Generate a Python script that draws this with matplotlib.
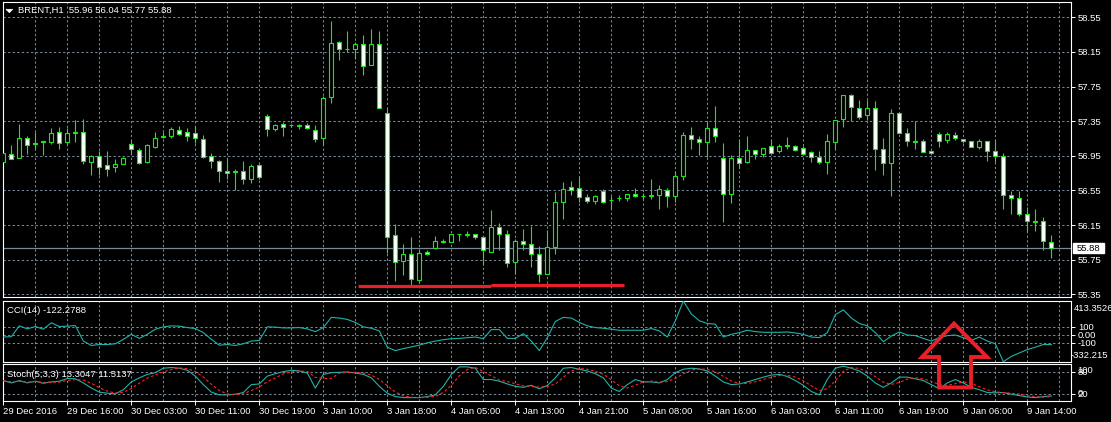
import matplotlib
matplotlib.use("Agg")
import matplotlib.pyplot as plt
from matplotlib.patches import Polygon, Rectangle
import matplotlib.transforms as mtransforms

plt.rcParams['font.family'] = ['Liberation Sans', 'DejaVu Sans']

# ---------------- data ----------------
title_text = "BRENT,H1  55.96 56.04 55.77 55.88"
cci_text = "CCI(14) -122.2788"
stoch_text = "Stoch(5,3,3) 13.3047 11.5137"

opens = [56.88, 56.97, 56.93, 57.15, 57.10, 57.12, 57.11, 57.22, 57.11, 57.22,
         57.23, 56.88, 56.95, 56.84, 56.82, 56.86, 57.09, 57.02, 56.88, 57.05,
         57.17, 57.18, 57.25, 57.22, 57.21, 57.14, 56.95, 56.89, 56.77, 56.77,
         56.78, 56.68, 56.84, 57.41, 57.26, 57.32, 57.30, 57.30, 57.31, 57.25,
         57.15, 57.63, 58.26, 58.18, 58.18, 58.24, 58.00, 58.24, 57.44, 56.03,
         55.73, 55.81, 55.52, 55.84, 55.89, 55.96, 55.96, 56.05, 56.04, 56.05,
         56.01, 55.84, 56.13, 56.05, 55.72, 55.97, 55.93, 55.82, 55.59, 55.90,
         56.42, 56.59, 56.58, 56.47, 56.43, 56.54, 56.44, 56.46, 56.46, 56.51,
         56.49, 56.49, 56.50, 56.55, 56.49, 56.72, 57.19, 57.14, 57.11, 57.27,
         56.93, 56.51, 56.92, 56.88, 57.02, 56.97, 57.06, 57.00, 57.07, 57.06,
         57.04, 56.99, 56.94, 56.88, 57.11, 57.37, 57.65, 57.50, 57.42, 57.50,
         57.03, 56.87, 57.44, 57.21, 57.12, 57.12, 57.00, 57.20, 57.13, 57.19,
         57.14, 57.12, 57.05, 57.12, 57.00, 56.95, 56.50, 56.46, 56.28, 56.20,
         56.20, 55.96]
highs = [57.03, 57.07, 57.32, 57.18, 57.22, 57.12, 57.27, 57.28, 57.27, 57.36,
         57.37, 56.96, 57.00, 57.00, 56.91, 56.94, 57.13, 57.04, 57.09, 57.22,
         57.22, 57.28, 57.29, 57.27, 57.29, 57.19, 56.98, 56.90, 56.92, 56.80,
         56.89, 56.86, 56.86, 57.43, 57.32, 57.34, 57.32, 57.32, 57.33, 57.31,
         57.64, 58.51, 58.28, 58.39, 58.26, 58.34, 58.42, 58.39, 57.50, 56.16,
         55.93, 56.01, 55.86, 55.86, 56.02, 55.99, 56.05, 56.05, 56.08, 56.05,
         56.02, 56.32, 56.17, 56.09, 55.99, 56.11, 56.14, 55.91, 56.09, 56.53,
         56.65, 56.66, 56.70, 56.51, 56.50, 56.57, 56.48, 56.50, 56.51, 56.58,
         56.52, 56.68, 56.61, 56.58, 56.78, 57.22, 57.28, 57.18, 57.34, 57.52,
         57.10, 56.96, 57.13, 57.18, 57.02, 57.04, 57.13, 57.09, 57.17, 57.08,
         57.06, 57.01, 57.00, 57.20, 57.36, 57.65, 57.66, 57.59, 57.60, 57.58,
         57.16, 57.49, 57.45, 57.27, 57.35, 57.14, 57.00, 57.22, 57.22, 57.23,
         57.14, 57.12, 57.14, 57.12, 57.13, 56.98, 56.54, 56.54, 56.36, 56.33,
         56.24, 56.04]
lows = [56.86, 56.91, 56.93, 56.97, 57.03, 56.96, 57.09, 57.03, 57.09, 57.11,
        56.85, 56.73, 56.73, 56.72, 56.76, 56.86, 56.97, 56.86, 56.87, 57.04,
        57.16, 57.16, 57.19, 57.12, 57.10, 56.92, 56.81, 56.65, 56.68, 56.56,
        56.62, 56.64, 56.68, 57.18, 57.24, 57.18, 57.28, 57.26, 57.26, 57.11,
        57.07, 57.56, 58.06, 58.15, 58.07, 57.88, 58.00, 57.50, 55.83, 55.50,
        55.57, 55.45, 55.48, 55.80, 55.87, 55.94, 55.96, 55.97, 56.01, 55.99,
        55.69, 55.84, 55.86, 55.67, 55.58, 55.86, 55.66, 55.49, 55.59, 55.82,
        56.22, 56.50, 56.42, 56.40, 56.39, 56.40, 56.34, 56.43, 56.43, 56.47,
        56.45, 56.45, 56.34, 56.36, 56.42, 56.67, 57.03, 56.96, 56.94, 57.11,
        56.19, 56.41, 56.81, 56.87, 56.91, 56.94, 56.98, 56.98, 57.03, 57.01,
        56.96, 56.88, 56.85, 56.74, 57.03, 57.28, 57.35, 57.37, 57.36, 56.79,
        56.73, 56.49, 57.21, 57.06, 57.03, 56.99, 56.98, 57.05, 57.10, 57.13,
        57.10, 57.05, 57.03, 56.89, 56.88, 56.33, 56.28, 56.26, 56.07, 56.08,
        55.86, 55.77]
closes = [56.98, 56.91, 57.16, 57.08, 57.09, 57.11, 57.21, 57.10, 57.21, 57.21,
          56.89, 56.95, 56.82, 56.80, 56.86, 56.93, 57.03, 56.87, 57.07, 57.16,
          57.18, 57.26, 57.20, 57.18, 57.15, 56.94, 56.89, 56.78, 56.75, 56.76,
          56.68, 56.83, 56.70, 57.26, 57.31, 57.28, 57.30, 57.29, 57.27, 57.14,
          57.62, 58.25, 58.18, 58.18, 58.24, 57.99, 58.24, 57.50, 56.01, 55.72,
          55.81, 55.53, 55.83, 55.81, 55.97, 55.97, 56.05, 56.05, 56.05, 56.01,
          55.86, 56.13, 56.05, 55.71, 55.97, 55.93, 55.81, 55.58, 55.90, 56.42,
          56.57, 56.55, 56.47, 56.43, 56.48, 56.42, 56.44, 56.46, 56.51, 56.49,
          56.48, 56.50, 56.57, 56.48, 56.72, 57.19, 57.14, 57.11, 57.27, 57.18,
          56.51, 56.93, 56.87, 57.02, 56.97, 57.04, 56.98, 57.06, 57.06, 57.02,
          56.97, 56.94, 56.88, 57.12, 57.36, 57.65, 57.51, 57.40, 57.50, 57.03,
          56.87, 57.44, 57.21, 57.12, 57.11, 56.99, 56.98, 57.12, 57.20, 57.15,
          57.12, 57.05, 57.12, 57.00, 56.95, 56.50, 56.46, 56.28, 56.20, 56.19,
          55.97, 55.88]

cci = [-29, -25, 108, 71, 100, 67, 146, 100, 104, 112,
       -79, -133, -121, -121, -112, -58, 4, -46, 4, 67,
       96, 108, 104, 87, 75, 25, -58, -129, -121, -133,
       -112, -79, -71, 96, 92, 83, 83, 87, 71, 37,
       87, 212, 204, 187, 150, 96, 79, 46, -154, -196,
       -171, -150, -129, -100, -79, -62, -50, -46, -37, -29,
       -50, 62, 62, -46, -46, 12, -79, -196, -37, 162,
       212, 204, 150, 108, 87, 79, 67, 54, 54, 54,
       54, 75, 46, -29, 171, 413.35, 254, 171, 137, 129,
       -29, 4, 25, 54, 37, 29, 29, 29, 33, 21,
       4, -29, -37, 25, 246, 304, 204, 137, 108, 25,
       -87, -17, 33, -4, -12, -46, -79, -37, -12, -4,
       -37, -71, -29, -79, -112, -332.215, -267, -225, -183, -154,
       -121, -122.28]

stoch_main = [55.6, 49.1, 55.6, 49.1, 53.8, 48.1, 51.9, 53.8, 61.3, 60.3,
              49.1, 35.0, 23.8, 20.9, 19.1, 30.3, 51.9, 63.1, 72.5, 77.2,
              89.4, 91.3, 89.4, 83.8, 67.8, 44.4, 23.8, 16.3, 16.3, 18.1,
              22.8, 44.4, 46.3, 67.8, 74.4, 80.0, 83.8, 81.9, 76.3, 35.0,
              72.5, 77.2, 78.1, 79.1, 76.3, 72.5, 63.1, 39.7, 20.9, 11.6,
              8.8, 8.8, 8.8, 11.6, 16.3, 39.7, 72.5, 93.1, 93.1, 89.4,
              58.4, 58.4, 53.8, 46.3, 39.7, 36.9, 42.5, 33.1, 42.0, 63.1,
              89.4, 91.3, 86.6, 81.9, 74.4, 63.1, 35.0, 25.6, 44.4, 58.4,
              51.9, 51.9, 49.1, 58.4, 77.2, 86.6, 89.4, 87.5, 81.9, 67.8,
              51.9, 44.4, 46.3, 51.9, 58.4, 65.0, 70.6, 72.5, 66.9, 55.6,
              42.5, 25.6, 16.3, 58.4, 89.4, 95.0, 89.4, 81.9, 67.8, 49.1,
              36.9, 49.1, 65.0, 65.0, 60.3, 55.6, 44.4, 33.1, 49.1, 58.4,
              49.1, 36.9, 30.3, 22.8, 21.9, 22.8, 18.1, 14.4, 10.6, 8.8,
              11.6, 13.3047]
stoch_signal = [55.0, 52.0, 53.4, 51.3, 52.8, 50.3, 51.3, 51.3, 55.7, 58.5,
                56.9, 48.1, 36.0, 26.6, 21.3, 23.4, 33.8, 48.4, 62.5, 70.9,
                79.7, 86.0, 90.0, 88.2, 80.3, 65.3, 45.3, 28.2, 18.8, 16.9,
                19.1, 28.4, 37.8, 52.8, 62.8, 74.1, 79.4, 81.9, 80.7, 64.4,
                61.3, 61.6, 75.9, 78.1, 77.8, 76.0, 70.6, 58.4, 41.2, 24.1,
                13.8, 9.7, 8.8, 9.7, 12.2, 22.5, 42.8, 68.4, 86.2, 91.9,
                80.3, 68.7, 56.9, 52.8, 46.6, 41.0, 39.7, 37.5, 39.2, 46.1,
                64.8, 81.3, 89.1, 86.6, 81.0, 73.1, 57.5, 41.2, 35.0, 42.8,
                51.6, 54.1, 51.0, 53.1, 61.6, 74.1, 84.4, 87.8, 86.3, 79.1,
                67.2, 54.7, 47.5, 47.5, 52.2, 58.4, 64.7, 69.4, 70.0, 65.0,
                55.0, 41.2, 28.1, 33.4, 54.7, 80.9, 91.3, 88.8, 79.7, 66.3,
                51.3, 45.0, 50.3, 59.7, 63.4, 60.3, 53.4, 44.4, 42.2, 46.9,
                52.2, 48.1, 38.8, 30.0, 25.0, 22.5, 20.9, 18.4, 14.4, 11.3,
                10.3, 11.5137]

time_labels = ["29 Dec 2016", "29 Dec 16:00", "30 Dec 03:00", "30 Dec 11:00",
               "30 Dec 19:00", "3 Jan 10:00", "3 Jan 18:00", "4 Jan 05:00",
               "4 Jan 13:00", "4 Jan 21:00", "5 Jan 08:00", "5 Jan 16:00",
               "6 Jan 03:00", "6 Jan 11:00", "6 Jan 19:00", "9 Jan 06:00",
               "9 Jan 14:00"]
label_step = 8
grid_step = 4
price_levels = [58.55, 58.15, 57.75, 57.35, 56.95, 56.55, 56.15, 55.75, 55.35]
last_price = 55.88
cci_levels = [100, 0, -100]
cci_level_labels = ["100", "0.00", "-100"]
cci_max, cci_min = 413.3526, -332.215
stoch_levels = [80, 20]

# hand-drawn support lines (bar index start, end, price)
support_lines = [(44.3, 61.0, 55.443), (61.0, 77.6, 55.455)]

# ---------------- style ----------------
W, H = 1111, 422
BG = 'black'
GREEN = '#1ee61e'
GRID = '#778899'
TEAL = '#20b2aa'
RED = '#e8202a'
FS = 6.8
n = len(closes)
xlim = (-0.08, 133.46)

fig = plt.figure(figsize=(W / 100, H / 100), dpi=100, facecolor=BG)


def px_axes(x0, y0, x1, y1):
    return fig.add_axes([x0 / W, 1 - y1 / H, (x1 - x0) / W, (y1 - y0) / H])


def style(ax):
    ax.set_facecolor(BG)
    for s in ax.spines.values():
        s.set_color('white')
        s.set_linewidth(0.8)
    ax.set_xlim(*xlim)
    ax.tick_params(colors='white', labelsize=FS, length=3, width=0.7)
    ax.set_xticks([])
    for gx in range(grid_step, n + 2, grid_step):
        ax.axvline(gx, color=GRID, lw=0.75, ls=(0, (2.2, 2.2)), zorder=1)


ax = px_axes(2.7, 2.3, 1071, 297)
ax_cci = px_axes(2.7, 301, 1071, 361.7)
ax_st = px_axes(2.7, 364, 1071, 401)
for a in (ax, ax_cci, ax_st):
    style(a)

# ---- main price panel ----
ax.set_ylim(55.319, 58.723)
for lv in price_levels:
    ax.axhline(lv, color=GRID, lw=0.75, ls=(0, (2.2, 2.2)), zorder=1)
ax.axhline(last_price, color=GRID, lw=0.9, zorder=1.5)

for k in range(n):
    o, h, l, c = opens[k], highs[k], lows[k], closes[k]
    ax.vlines(k, l, h, color=GREEN, lw=0.8, zorder=2)
    fill = 'black' if c >= o else 'white'
    ax.bar(k, max(abs(c - o), 0.0005), bottom=min(o, c), width=0.54,
           facecolor=fill, edgecolor=GREEN, linewidth=0.8, zorder=3)

for x0, x1, p in support_lines:
    ax.hlines(p, x0, x1, color=RED, lw=2.3, zorder=4)

ax.yaxis.tick_right()
ax.set_yticks(price_levels)
ax.set_yticklabels([f"{v:.2f}" for v in price_levels])
ax.tick_params(axis='y', pad=2)

# current price tag on the right scale
trans_main = mtransforms.blended_transform_factory(ax.transAxes, ax.transData)
tag_h = 10 * (58.723 - 55.319) / (297 - 2.3)
ax.add_patch(Rectangle((1.0015, last_price - tag_h / 2), 31.5 / 1068.3, tag_h,
                       transform=trans_main, fc='white', ec='white',
                       clip_on=False, zorder=6))
ax.text(1.0015 + 15.75 / 1068.3, last_price, f"{last_price:.2f}",
        transform=trans_main, ha='center', va='center', fontsize=FS,
        color='black', zorder=7, clip_on=False)

# ---- CCI panel ----
ax_cci.set_ylim(cci_min, cci_max)
for lv in cci_levels:
    ax_cci.axhline(lv, color=GRID, lw=0.75, ls=(0, (2.2, 2.2)), zorder=1)
ax_cci.plot(range(n), cci, color=TEAL, lw=0.8, zorder=3)
ax_cci.yaxis.tick_right()
ax_cci.set_yticks(cci_levels)
ax_cci.set_yticklabels(cci_level_labels)
ax_cci.tick_params(axis='y', pad=2)

# ---- Stochastic panel ----
ax_st.set_ylim(-0.5, 101)
for lv in stoch_levels:
    ax_st.axhline(lv, color=GRID, lw=0.75, ls=(0, (2.2, 2.2)), zorder=1)
ax_st.plot(range(n), stoch_main, color=TEAL, lw=0.8, zorder=3)
ax_st.plot(range(n), stoch_signal, color='#ff2020', lw=0.8,
           ls=(0, (2.5, 2.0)), zorder=3)
ax_st.yaxis.tick_right()
ax_st.set_yticks(stoch_levels)
ax_st.set_yticklabels([str(v) for v in stoch_levels])
ax_st.tick_params(axis='y', pad=2)

ax_st.set_xticks(list(range(0, label_step * len(time_labels), label_step)))
ax_st.set_xticklabels(time_labels, ha='left')
ax_st.tick_params(axis='x', length=3, pad=1.5, colors='white', labelsize=FS)


# ---- texts ----
def ftext(x, y, s, **kw):
    fig.text(x / W, 1 - y / H, s, color=kw.pop('color', 'white'),
             fontsize=kw.pop('fontsize', FS), va=kw.pop('va', 'center'),
             ha=kw.pop('ha', 'left'), **kw)


ftext(18, 10.7, title_text)
fig.add_artist(Polygon([(6 / W, 1 - 9.3 / H), (12.7 / W, 1 - 9.3 / H),
                        (9.35 / W, 1 - 12.7 / H)], closed=True,
                       transform=fig.transFigure, fc='white', ec='white', lw=0.5))
ftext(7, 310.7, cci_text)
ftext(7, 374.2, stoch_text)
ftext(1074, 308.3, f"{cci_max:.4f}")
ftext(1071, 356.0, f"{cci_min:.3f}")
ftext(1077, 370.5, "100")
ftext(1078, 394.0, "0")

# ---- red arrow annotation (figure pixel space) ----
ov = fig.add_axes([0, 0, 1, 1])
ov.set_xlim(0, W)
ov.set_ylim(H, 0)
ov.axis('off')
ov.patch.set_alpha(0)
arrow_pts = [(954, 323.5), (987, 357), (971, 357), (971, 387.5),
             (939, 387.5), (939, 357), (922, 357)]
ov.add_patch(Polygon(arrow_pts, closed=True, fill=False, ec=RED, lw=2.8,
                     joinstyle='miter'))

fig.savefig("out.png", dpi=100, facecolor=BG)
